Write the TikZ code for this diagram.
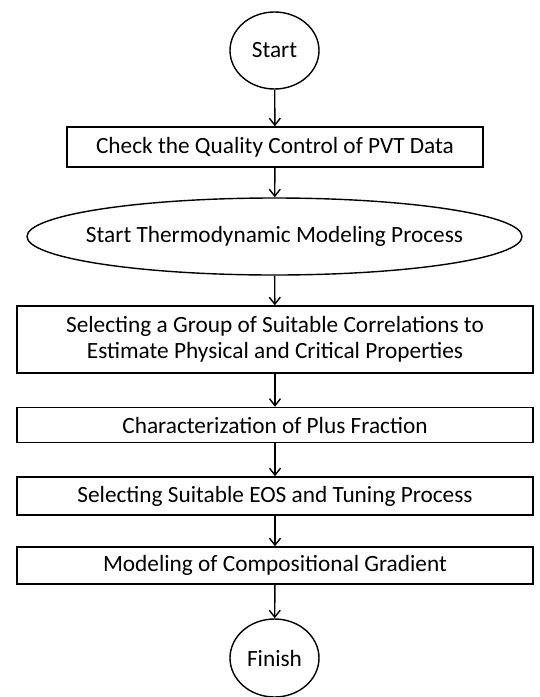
\documentclass[tikz,border=0pt]{standalone}
\usepackage{fontspec}
\setmainfont{Carlito}
\usetikzlibrary{shapes.geometric,arrows.meta}
\begin{document}
\begin{tikzpicture}[x=1pt,y=-1pt,
  every node/.style={font=\fontsize{23.3}{26}\selectfont, inner sep=0pt},
  stepbox/.style={draw, line width=1.4pt, rectangle, align=center},
  widebox/.style={stepbox, minimum width=516pt},
  terminal/.style={draw, line width=1.4pt, ellipse},
  flow/.style={draw, line width=1.4pt, -{Straight Barb[length=7pt,width=11pt,line width=1.4pt]}}]
  \useasboundingbox (0,0) rectangle (539,697);
  % terminals (text kept zero-width so the outline size is fixed)
  \node[terminal, minimum width=89pt, minimum height=77pt] (start) at (274.5,50.5) {\makebox[0pt]{Start}};
  \node[terminal, minimum width=89pt, minimum height=78pt] (finish) at (274.5,658) {\makebox[0pt]{Finish}};
  % process steps
  \node[stepbox, minimum width=416pt, minimum height=40pt] (qc) at (275,147) {Check the Quality Control of PVT Data};
  \node[terminal, minimum width=495pt, minimum height=77pt] (thermo) at (274.5,236.5)
    {\makebox[0pt]{Start Thermodynamic Modeling Process}};
  \node[widebox, minimum height=67pt] (corr) at (275,339.5)
    {Selecting a Group of Suitable Correlations to\\Estimate Physical and Critical Properties};
  \node[widebox, minimum height=35pt] (plus) at (275,425) {Characterization of Plus Fraction};
  \node[widebox, minimum height=38pt] (eos) at (275,496) {Selecting Suitable EOS and Tuning Process};
  \node[widebox, minimum height=37pt] (grad) at (275,565.5) {Modeling of Compositional Gradient};
  % connectors
  \draw[flow] (start) -- (qc);
  \draw[flow] (qc) -- (thermo);
  \draw[flow] (thermo) -- (corr);
  \draw[flow] (corr) -- (plus);
  \draw[flow] (plus) -- (eos);
  \draw[flow] (eos) -- (grad);
  \draw[flow] (grad) -- (finish);
\end{tikzpicture}
\end{document}
